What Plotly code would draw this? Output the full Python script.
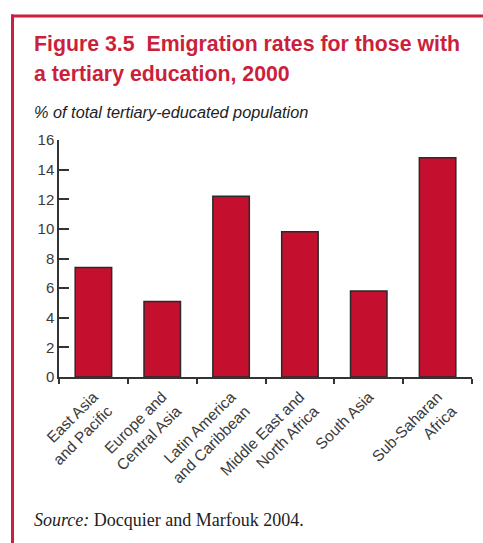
import plotly.graph_objects as go

categories = ["East Asia<br>and Pacific", "Europe and<br>Central Asia", "Latin America<br>and Caribbean",
              "Middle East and<br>North Africa", "South Asia", "Sub-Saharan<br>Africa"]
values = [7.4, 5.1, 12.2, 9.8, 5.8, 14.8]
y_ticks = [0, 2, 4, 6, 8, 10, 12, 14, 16]

W, H = 483, 543
ML, MR, MT, MB = 59, 11, 140, 166
PW, PH = W - ML - MR, H - MT - MB

def xp(px):
    return (px - ML) / PW

def yp(py):
    return (H - MB - py) / PH

RED = "#cc1f3c"
BAR = "#c4102e"

fig = go.Figure(go.Bar(
    x=categories, y=values, width=0.53,
    marker=dict(color=BAR, line=dict(color="#2a2a2a", width=1.5)),
))

fig.update_layout(
    width=W, height=H, margin=dict(l=ML, r=MR, t=MT, b=MB),
    paper_bgcolor="white", plot_bgcolor="white", showlegend=False,
    font=dict(family="Liberation Sans, Arial, sans-serif", color="#333333"),
    xaxis=dict(showline=True, linecolor="#333333", linewidth=1.5, ticks="outside", ticklen=5,
               tickwidth=1.5, tickcolor="#333333", tickson="boundaries", tickangle=-45,
               ticklabelstandoff=3,
               tickfont=dict(size=15.5, color="#3a3a3a"), showgrid=False),
    yaxis=dict(range=[0, 16], tickvals=y_ticks, showline=True, linecolor="#333333", linewidth=1.5,
               ticks="inside", ticklen=10, tickwidth=1.5, tickcolor="#333333", showgrid=False,
               zeroline=False, tickfont=dict(size=15, color="#3a3a3a")),
    shapes=[
        dict(type="line", xref="paper", yref="paper", x0=xp(11), x1=xp(483), y0=yp(16), y1=yp(16),
             line=dict(color=RED, width=3)),
        dict(type="line", xref="paper", yref="paper", x0=xp(12.5), x1=xp(12.5), y0=yp(14.5), y1=yp(543),
             line=dict(color=RED, width=3)),
    ],
    annotations=[
        dict(text="<b>Figure 3.5  Emigration rates for those with</b>", xref="paper", yref="paper",
             x=xp(32), y=yp(44), xanchor="left", yanchor="middle", showarrow=False,
             font=dict(size=21.3, color=RED)),
        dict(text="<b>a tertiary education, 2000</b>", xref="paper", yref="paper",
             x=xp(32), y=yp(74), xanchor="left", yanchor="middle", showarrow=False,
             font=dict(size=21.3, color=RED)),
        dict(text="<i>% of total tertiary-educated population</i>", xref="paper", yref="paper",
             x=xp(32), y=yp(112), xanchor="left", yanchor="middle", showarrow=False,
             font=dict(size=16.3, color="#222222")),
        dict(text="<i>Source:</i> Docquier and Marfouk 2004.", xref="paper", yref="paper",
             x=xp(32), y=yp(520), xanchor="left", yanchor="middle", showarrow=False,
             font=dict(size=18, color="#222222", family="Liberation Serif, Times New Roman, serif")),
    ],
)

fig.write_html("out.html")
